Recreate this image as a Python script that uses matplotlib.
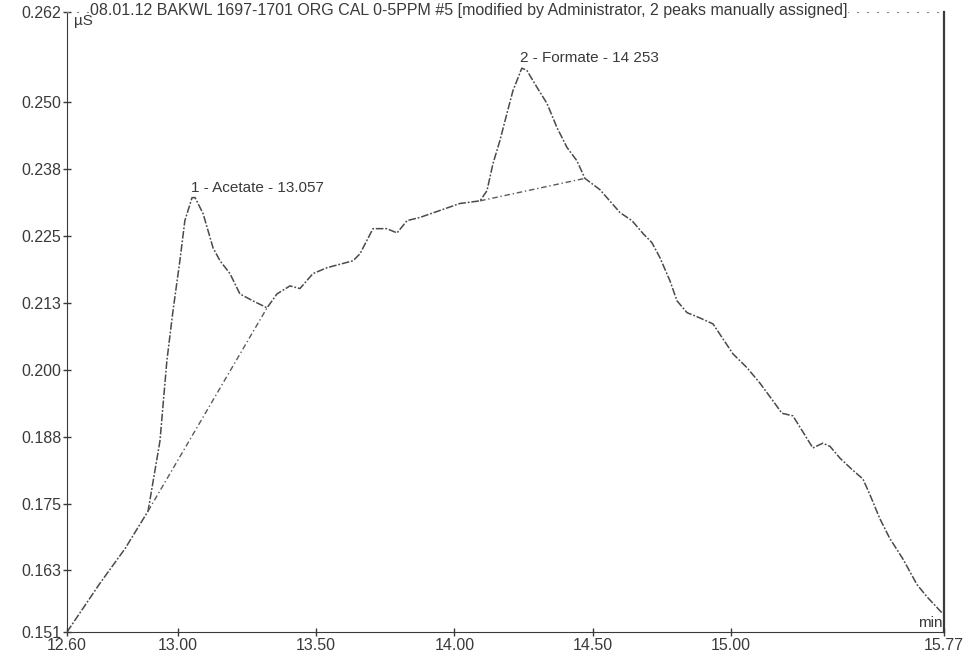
import matplotlib.pyplot as plt
import numpy as np

# retention time [min] and conductivity [uS]
time = [12.600, 12.719, 12.810, 12.893, 12.936, 12.961, 12.983, 13.008, 13.026, 13.052,
        13.063, 13.092, 13.128, 13.153, 13.189, 13.225, 13.272, 13.323, 13.359, 13.406,
        13.442, 13.489, 13.540, 13.634, 13.659, 13.706, 13.756, 13.793, 13.829, 13.876,
        13.948, 14.020, 14.093, 14.118, 14.140, 14.165, 14.190, 14.212, 14.244, 14.262,
        14.299, 14.335, 14.371, 14.407, 14.443, 14.472, 14.526, 14.599, 14.642, 14.682,
        14.714, 14.743, 14.779, 14.805, 14.841, 14.888, 14.935, 14.971, 15.007, 15.058,
        15.105, 15.152, 15.184, 15.224, 15.242, 15.296, 15.332, 15.358, 15.394, 15.437,
        15.477, 15.502, 15.538, 15.574, 15.621, 15.672, 15.708, 15.766]
signal = [0.1510, 0.1601, 0.1666, 0.1736, 0.1867, 0.2017, 0.2110, 0.2204, 0.2279, 0.2322,
          0.2322, 0.2292, 0.2228, 0.2204, 0.2180, 0.2142, 0.2129, 0.2116, 0.2142, 0.2157,
          0.2152, 0.2180, 0.2191, 0.2204, 0.2217, 0.2264, 0.2264, 0.2256, 0.2279, 0.2285,
          0.2298, 0.2311, 0.2316, 0.2335, 0.2386, 0.2429, 0.2479, 0.2522, 0.2564, 0.2560,
          0.2528, 0.2498, 0.2453, 0.2416, 0.2391, 0.2358, 0.2337, 0.2294, 0.2279, 0.2255,
          0.2238, 0.2210, 0.2167, 0.2129, 0.2107, 0.2097, 0.2086, 0.2058, 0.2030, 0.2004,
          0.1975, 0.1942, 0.1919, 0.1914, 0.1899, 0.1854, 0.1863, 0.1857, 0.1835, 0.1814,
          0.1796, 0.1767, 0.1722, 0.1685, 0.1647, 0.1599, 0.1576, 0.1544]

# integration baselines under the two peaks
base_acetate_t = [12.893, 13.323]
base_acetate_v = [0.1736, 0.2116]
base_formate_t = [14.093, 14.472]
base_formate_v = [0.2316, 0.2358]

peak_labels = ['1 - Acetate - 13.057', '2 - Formate - 14 253']
peak_t = [13.052, 14.244]
peak_v = [0.2322, 0.2564]

x_ticks = [12.60, 13.00, 13.50, 14.00, 14.50, 15.00, 15.77]
y_ticks = [0.151, 0.1625, 0.175, 0.1875, 0.200, 0.2125, 0.225, 0.2375, 0.250, 0.2669]
y_tick_labels = ['0.151', '0.163', '0.175', '0.188', '0.200', '0.213', '0.225', '0.238', '0.250', '0.262']

title = '08.01.12 BAKWL 1697-1701 ORG CAL 0-5PPM #5 [modified by Administrator, 2 peaks manually assigned]'

plt.rcParams['font.family'] = ['Liberation Sans', 'DejaVu Sans']
ink = '#3a3a3a'

fig = plt.figure(figsize=(9.63, 6.62), dpi=100)
ax = fig.add_axes([67 / 963, 1 - 632 / 662, 877 / 963, 620 / 662])

# the chromatogram itself, printed dash-dot on the scan
ax.plot(time, signal, color='#4a4a4a', lw=1.1, ls=(0, (5, 1.2, 1.2, 1.2)))
ax.plot(base_acetate_t, base_acetate_v, color='#5a5a5a', lw=1.0, ls=(0, (4, 2, 1, 2)))
ax.plot(base_formate_t, base_formate_v, color='#5a5a5a', lw=1.0, ls=(0, (4, 2, 1, 2)))

for lab, t, v in zip(peak_labels, peak_t, peak_v):
    ax.annotate(lab, (t, v), xytext=(-1, 2), textcoords='offset points',
                fontsize=11, color=ink, ha='left', va='bottom')

ax.set_xlim(x_ticks[0], x_ticks[-1])
ax.set_ylim(y_ticks[0], y_ticks[-1])
ax.set_xticks(x_ticks)
ax.set_xticklabels(['%.2f' % t for t in x_ticks])
ax.set_yticks(y_ticks)
ax.set_yticklabels(y_tick_labels)
ax.tick_params(axis='both', labelsize=11.5, colors=ink, direction='inout', length=6, width=1, pad=1)

ax.spines['left'].set_linestyle((0, (3, 1)))
ax.spines['bottom'].set_linestyle((0, (3, 1)))
ax.spines['top'].set_linestyle((0, (1, 8)))
ax.spines['top'].set_color('#888888')
ax.spines['right'].set_linewidth(1.6)
for s in ['left', 'bottom', 'right']:
    ax.spines[s].set_color(ink)

ax.text(0.026, 1.003, title, transform=ax.transAxes, fontsize=11.5, color=ink,
        ha='left', va='center', bbox=dict(facecolor='white', edgecolor='none', pad=0.5))
ax.text(0.008, 0.997, 'µS', transform=ax.transAxes, fontsize=11, color=ink,
        ha='left', va='top')
ax.text(0.998, 0.003, 'min', transform=ax.transAxes, fontsize=11, color=ink,
        ha='right', va='bottom')

fig.savefig('out.png', dpi=100)
